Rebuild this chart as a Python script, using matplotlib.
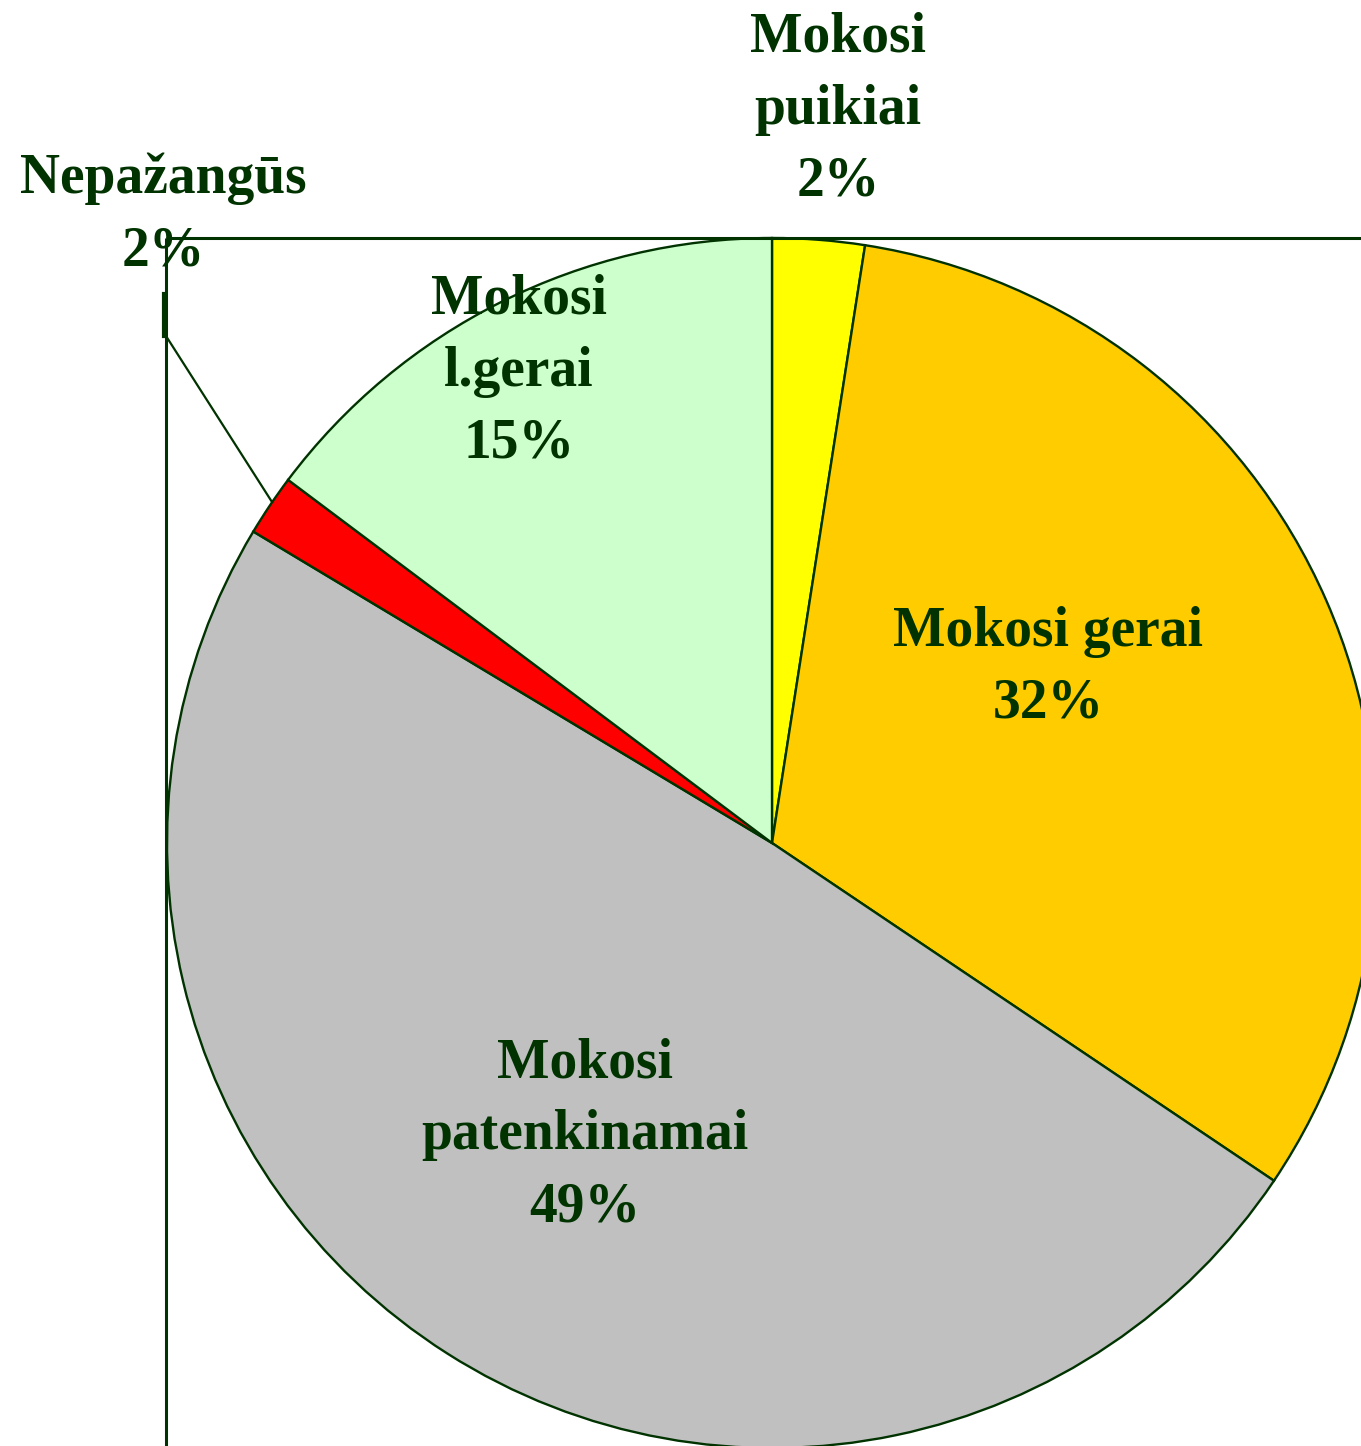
import matplotlib
matplotlib.use("Agg")
import matplotlib.pyplot as plt

categories = ["Mokosi\npuikiai", "Mokosi gerai", "Mokosi\npatenkinamai", "Nepažangūs", "Mokosi\nl.gerai"]
counts = [3, 39, 60, 2, 18]
pct_labels = ["2%", "32%", "49%", "2%", "15%"]
colors = ["#FFFF00", "#FFCC00", "#C0C0C0", "#FF0000", "#CCFFCC"]

W, H = 1361, 1446
DARK = "#003300"
fig = plt.figure(figsize=(W / 100, H / 100), dpi=100)
ax = fig.add_axes([0, 0, 1, 1])

def Y(y):
    return H - y

cx, cy, r = 772, Y(843), 605
ax.pie(counts, colors=colors, startangle=90, counterclock=False,
       center=(cx, cy), radius=r,
       wedgeprops=dict(edgecolor=DARK, linewidth=1.7))
ax.set_aspect("auto")
ax.set_xlim(0, W)
ax.set_ylim(0, H)
ax.axis("off")

# plot-area border (top and left)
ax.plot([166, W], [Y(238), Y(238)], color=DARK, lw=2.2, solid_capstyle="butt", clip_on=False)
ax.plot([166, 166], [Y(238), Y(H)], color=DARK, lw=2.2, solid_capstyle="butt", clip_on=False)

# leader line for Nepažangūs
ax.plot([272, 166], [Y(502), Y(336)], color=DARK, lw=1.6)
ax.plot([164, 164], [Y(294), Y(336)], color=DARK, lw=3)

font = dict(family="Liberation Serif", weight="bold", size=40, color=DARK,
            ha="center", va="center", linespacing=1.5)
positions = [(838, 110), (1048, 668), (585, 1135), (163, 215), (519, 372)]
for cat, pct, (x, y) in zip(categories, pct_labels, positions):
    ax.text(x, Y(y), f"{cat}\n{pct}", **font)

fig.savefig("out.png", dpi=100)
